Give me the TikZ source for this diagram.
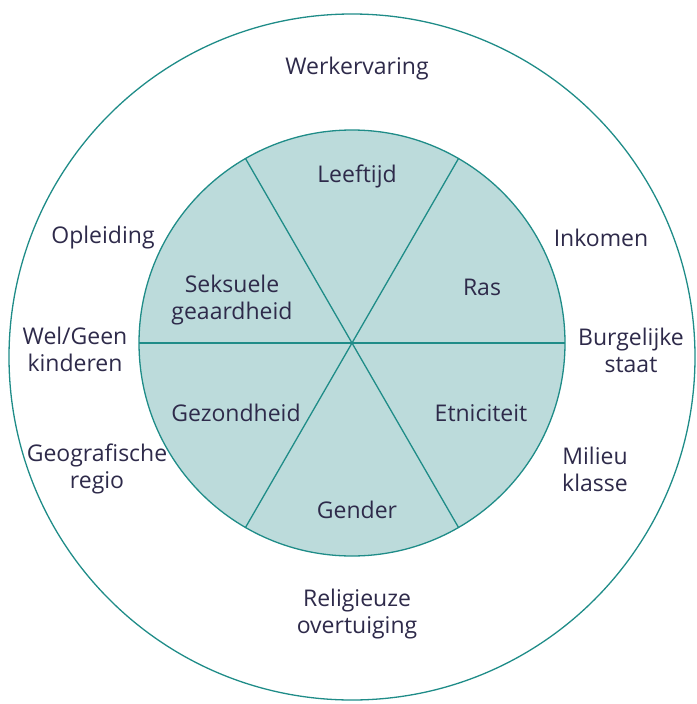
\documentclass[tikz,border=0pt]{standalone}
\usepackage{fontspec}
\usetikzlibrary{calc}
\setmainfont{Open Sans}
\definecolor{tealline}{HTML}{1F8C88}
\definecolor{tealfill}{HTML}{BCDBDB}
\definecolor{txt}{HTML}{2E2A4A}
\begin{document}
\begin{tikzpicture}[x=1pt,y=-1pt,
  lbl/.style={text=txt,font=\fontsize{23}{27}\selectfont,align=center,inner sep=0pt},
  ring/.style={draw=tealline,line width=1.3pt}]
\useasboundingbox (0,0) rectangle (696,704);
\coordinate (oc) at (352,357);
\coordinate (c) at (352,343);
\draw[ring] (oc) circle[radius=343];
\fill[tealfill] (c) circle[radius=213];
\foreach \a/\n in {0/e,60/a,120/b,180/w,240/d,300/f}{
  \coordinate (p\n) at ($(c)+(\a:213)$);
}
\draw[ring] (pw) -- (pe);
\draw[ring] (pa) -- (pd);
\draw[ring] (pb) -- (pf);
\draw[ring] (c) circle[radius=213];
\node[lbl] (werk) at (357,69) {Werkervaring};
\node[lbl] (leef) at (357,176) {Leeftijd};
\node[lbl] (opl) at (103,238) {Opleiding};
\node[lbl] (ink) at (601,238) {Inkomen};
\node[lbl] (seks) at (232,300) {Seksuele\\geaardheid};
\node[lbl] (ras) at (482,287) {Ras};
\node[lbl] (wel) at (75,349) {Wel/Geen\\kinderen};
\node[lbl] (burg) at (631,350) {Burgelijke\\staat};
\node[lbl] (gez) at (236,413) {Gezondheid};
\node[lbl] (etn) at (481,413) {Etniciteit};
\node[lbl] (geo) at (97,469) {Geografische\\regio};
\node[lbl] (mil) at (595,469) {Milieu\\klasse};
\node[lbl] (gen) at (357,510) {Gender};
\node[lbl] (rel) at (357,614) {Religieuze\\overtuiging};
\end{tikzpicture}
\end{document}
